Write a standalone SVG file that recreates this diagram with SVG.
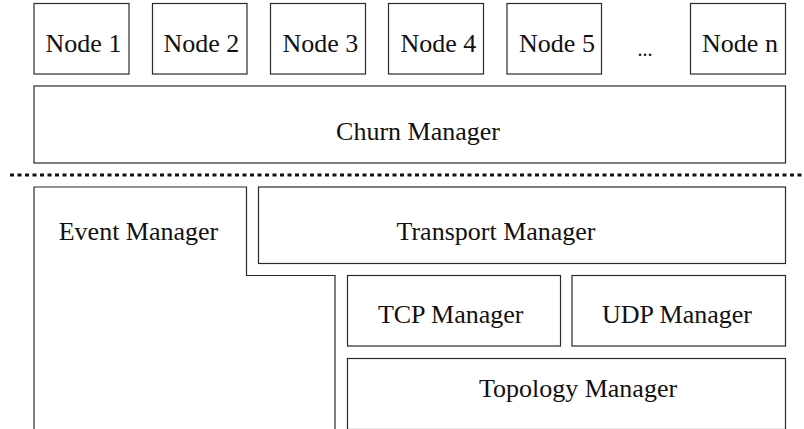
<svg xmlns="http://www.w3.org/2000/svg" width="804" height="429" viewBox="0 0 804 429">
<style>
.box{fill:#fff;stroke:#2a2a2a;stroke-width:1.2}
text{font-family:"Liberation Serif","Times New Roman",serif;font-size:26px;fill:#111;text-anchor:middle}
.sep{stroke:#111;stroke-width:3;stroke-dasharray:4 3.5;fill:none}
</style>
<rect width="804" height="429" fill="#fff"/>
<g id="node1"><rect class="box" x="34" y="3.5" width="95" height="70.5"/><text x="83.5" y="52">Node 1</text></g>
<g id="node2"><rect class="box" x="152.5" y="3.5" width="94.5" height="70.5"/><text x="201.3" y="52">Node 2</text></g>
<g id="node3"><rect class="box" x="270.5" y="3.5" width="95" height="70.5"/><text x="320.3" y="52">Node 3</text></g>
<g id="node4"><rect class="box" x="388.5" y="3.5" width="95" height="70.5"/><text x="438.3" y="52">Node 4</text></g>
<g id="node5"><rect class="box" x="507" y="3.5" width="94.5" height="70.5"/><text x="557" y="52">Node 5</text></g>
<g id="ellipsis"><text x="645" y="56" style="font-size:20px">...</text></g>
<g id="noden"><rect class="box" x="690.5" y="3.5" width="95" height="70.5"/><text x="740" y="52">Node n</text></g>
<g id="churn"><rect class="box" x="34" y="86" width="751.5" height="77"/><text x="418" y="140">Churn Manager</text></g>
<g id="connectors"><line class="sep" x1="10" y1="175" x2="804" y2="175"/></g>
<g id="event"><path class="box" d="M34,429 V187 H246.5 V275.5 H335 V429"/><text x="138.5" y="240">Event Manager</text></g>
<g id="transport"><rect class="box" x="258.5" y="187" width="527" height="76.5"/><text x="496" y="240">Transport Manager</text></g>
<g id="tcp"><rect class="box" x="347.5" y="275.5" width="213" height="70.5"/><text x="450.7" y="323">TCP Manager</text></g>
<g id="udp"><rect class="box" x="572" y="275.5" width="213.5" height="70.5"/><text x="677" y="323">UDP Manager</text></g>
<g id="topology"><rect class="box" x="347.5" y="358.5" width="438" height="71"/><text x="578" y="397">Topology Manager</text></g>
</svg>
